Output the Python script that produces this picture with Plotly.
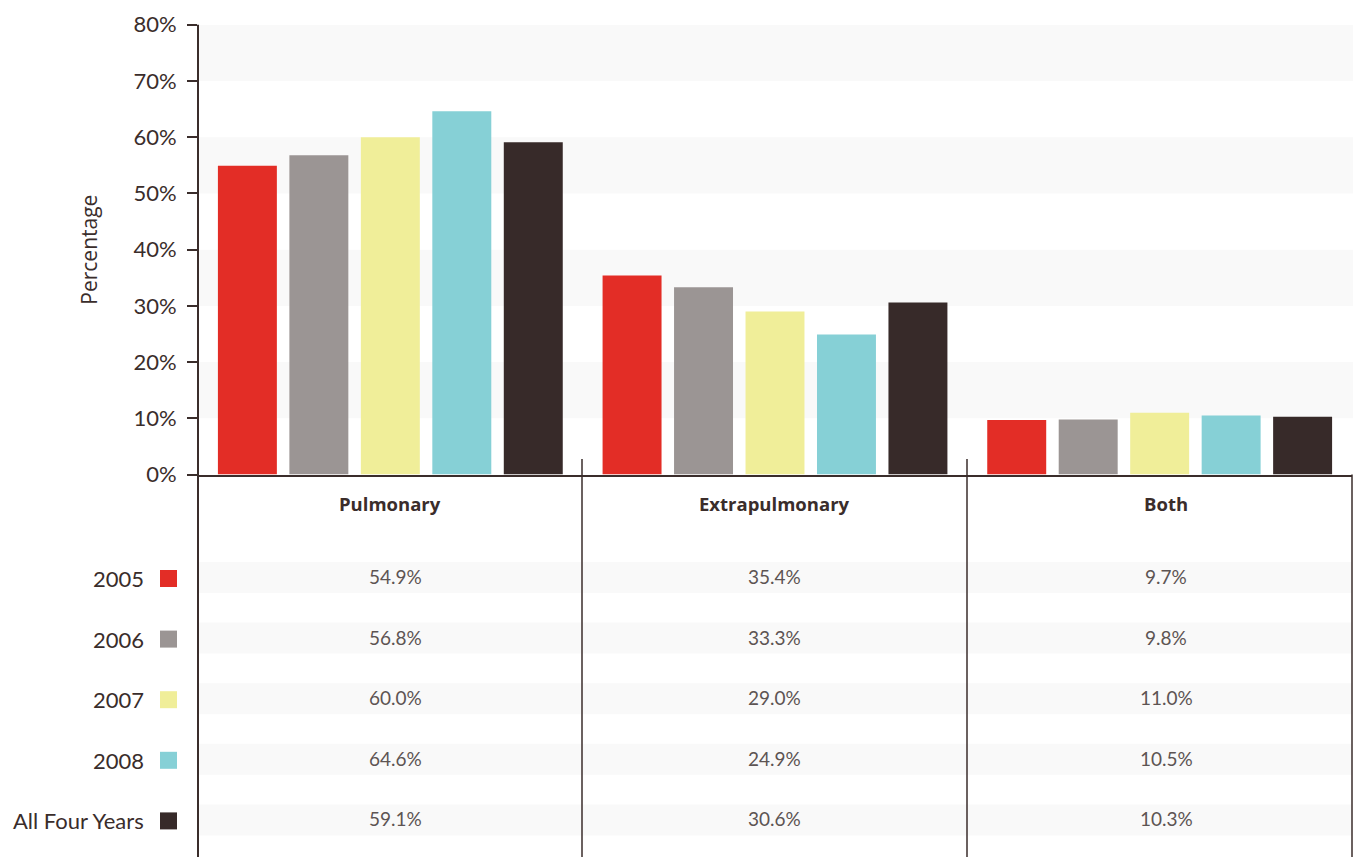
import plotly.graph_objects as go

# Data
categories = ["Pulmonary", "Extrapulmonary", "Both"]
series_names = ["2005", "2006", "2007", "2008", "All Four Years"]
values_2005 = [54.9, 35.4, 9.7]
values_2006 = [56.8, 33.3, 9.8]
values_2007 = [60.0, 29.0, 11.0]
values_2008 = [64.6, 24.9, 10.5]
values_all = [59.1, 30.6, 10.3]
series_values = [values_2005, values_2006, values_2007, values_2008, values_all]
series_colors = ["#e32d26", "#9b9594", "#f0ee99", "#86d0d6", "#372a29"]
y_ticks = [0, 10, 20, 30, 40, 50, 60, 70, 80]

W, H = 1353, 857
DARK = "#3a2d2b"
VALUE_GREY = "#5d5453"
BAND = "#f9f9f9"


def px(x):
    return x / W


def py(y):
    return 1 - y / H


plot_left, plot_right = 198, 1352
plot_top, plot_bottom = 24.7, 474.6

fig = go.Figure()
for name, vals, color in zip(series_names, series_values, series_colors):
    fig.add_trace(go.Bar(x=categories, y=vals, name=name,
                         marker=dict(color=color, line=dict(width=0)),
                         showlegend=False, hoverinfo="skip"))

shapes = []
# alternating background bands in the plot area
for lo in (10, 30, 50, 70):
    shapes.append(dict(type="rect", xref="paper", yref="y",
                       x0=px(plot_left + 1), x1=px(W), y0=lo, y1=lo + 10,
                       fillcolor=BAND, line=dict(width=0), layer="below"))

# table row bands
row_centers = [577.5 + 60.6 * i for i in range(len(series_names))]
for yc in row_centers:
    shapes.append(dict(type="rect", xref="paper", yref="paper",
                       x0=px(plot_left + 1), x1=px(plot_right), y0=py(yc - 15.5), y1=py(yc + 15.5),
                       fillcolor=BAND, line=dict(width=0), layer="below"))

# left axis line running down through the table
shapes.append(dict(type="line", xref="paper", yref="paper",
                   x0=px(plot_left), x1=px(plot_left), y0=py(plot_top), y1=py(H),
                   line=dict(color=DARK, width=2)))
# column dividers
for xd in (582, 967):
    shapes.append(dict(type="line", xref="paper", yref="paper",
                       x0=px(xd), x1=px(xd), y0=py(459), y1=py(H),
                       line=dict(color=DARK, width=1.5)))
shapes.append(dict(type="line", xref="paper", yref="paper",
                   x0=px(plot_right), x1=px(plot_right), y0=py(plot_bottom), y1=py(H),
                   line=dict(color=DARK, width=1.5)))

# legend swatches
for yc, color in zip(row_centers, series_colors):
    shapes.append(dict(type="rect", xref="paper", yref="paper",
                       x0=px(160), x1=px(177), y0=py(yc - 8.5 + 1), y1=py(yc + 8.5 + 1),
                       fillcolor=color, line=dict(width=0)))

annotations = []
header_centers = [390, 774.5, 1166]
value_centers = [395.5, 775, 1166]
for cat, xc in zip(categories, header_centers):
    annotations.append(dict(xref="paper", yref="paper", x=px(xc), y=py(504),
                            text="<b>" + cat + "</b>", showarrow=False,
                            xanchor="center", yanchor="middle",
                            font=dict(family="Open Sans", size=18.5, color=DARK)))

for name, vals, yc in zip(series_names, series_values, row_centers):
    annotations.append(dict(xref="paper", yref="paper", x=px(146), y=py(yc + 1),
                            text=name, showarrow=False, xanchor="right", yanchor="middle",
                            font=dict(family="Lato", size=22, color=DARK)))
    for v, xc in zip(vals, value_centers):
        annotations.append(dict(xref="paper", yref="paper", x=px(xc), y=py(yc - 1),
                                text=f"{v:.1f}%", showarrow=False,
                                xanchor="center", yanchor="middle",
                                font=dict(family="Lato", size=19, color=VALUE_GREY)))

fig.update_layout(
    width=W, height=H,
    margin=dict(l=0, r=0, t=0, b=0),
    paper_bgcolor="white", plot_bgcolor="white",
    barmode="group", bargap=0.071, bargroupgap=0.175,
    shapes=shapes, annotations=annotations,
    xaxis=dict(domain=[px(plot_left), px(plot_right)], automargin=False,
               showticklabels=False, ticks="", showgrid=False, zeroline=False,
               showline=True, linecolor=DARK, linewidth=2),
    yaxis=dict(domain=[py(plot_bottom), py(plot_top)], range=[0, 80], automargin=False,
               tickvals=y_ticks, ticktext=[f"{t}%" for t in y_ticks],
               ticks="outside", ticklen=10, tickcolor=DARK, tickwidth=1.5,
               ticklabelstandoff=6,
               showgrid=False, zeroline=False, showline=False,
               tickfont=dict(family="Lato", size=22, color=DARK),
               title=dict(text="Percentage", standoff=30,
                          font=dict(family="Open Sans", size=21, color=DARK))),
)

fig.write_html("out.html")
